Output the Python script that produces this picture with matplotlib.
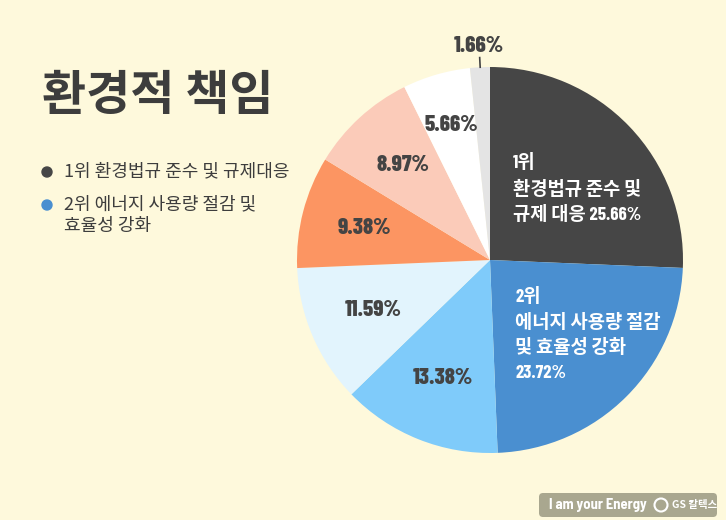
"""Pie chart of environmental responsibility priorities (환경적 책임)."""

import matplotlib
matplotlib.use("Agg")
import matplotlib.pyplot as plt
import numpy as np
from matplotlib.patches import FancyBboxPatch, Circle

plt.rcParams["font.family"] = ["Noto Sans CJK KR", "DejaVu Sans"]

BG = "#fef9dc"
DARK = "#444444"
NUM_FONT = ["Barlow Condensed", "Noto Sans CJK KR", "DejaVu Sans"]

# data, clockwise from 12 o'clock
values = [25.66, 23.72, 13.38, 11.59, 9.38, 8.97, 5.66, 1.66]
pct_labels = ["25.66%", "23.72%", "13.38%", "11.59%", "9.38%", "8.97%", "5.66%", "1.66%"]
colors = ["#464646", "#4a8fd0", "#7fcbfa", "#e2f4fd", "#fc9562", "#fbcbb9", "#ffffff", "#e4e4e4"]
legend_items = ["1위 환경법규 준수 및 규제대응", "2위 에너지 사용량 절감 및\n효율성 강화"]
legend_colors = ["#464646", "#4a8fd0"]

W, H = 726, 520
fig = plt.figure(figsize=(W / 100, H / 100), dpi=100)
fig.patch.set_facecolor(BG)

# pie axis: centre (490, 260) px, radius 193 px
cx, cy, r = 490, 260, 193
ax = fig.add_axes([(cx - r) / W, (H - cy - r) / H, 2 * r / W, 2 * r / H])
wedges, _ = ax.pie(values, colors=colors, startangle=90, counterclock=False,
                   wedgeprops=dict(linewidth=0))
ax.set_xlim(-1, 1)
ax.set_ylim(-1, 1)
ax.set_aspect("equal")
ax.axis("off")

cum = np.cumsum([0] + values)
mids = 90 - (cum[:-1] + cum[1:]) / 2 * 3.6
dists = [None, None, 0.66, 0.66, 0.67, 0.67, 0.73, 1.11]
for i in range(2, len(values)):
    a = np.deg2rad(mids[i])
    d = dists[i]
    ax.text(d * np.cos(a), d * np.sin(a), pct_labels[i], ha="center", va="center",
            fontsize=16.5, fontweight=800, color=DARK, family=NUM_FONT, clip_on=False)

# tick line for the tiny slice
a = np.deg2rad(mids[7])
ax.plot([1.0 * np.cos(a), 1.05 * np.cos(a)], [1.0 * np.sin(a), 1.05 * np.sin(a)],
        color=DARK, lw=1.2, clip_on=False)

# inner labels for the two largest slices
inner = dict(ha="left", va="center", fontsize=13.5, fontweight="bold", color="white",
             family=NUM_FONT)
rows1 = ["1위", "환경법규 준수 및", "규제 대응 " + pct_labels[0]]
for txt, y in zip(rows1, [163, 190, 215]):
    ax.text(23 / r, (cy - y) / r, txt, **inner)
rows2 = ["2위", "에너지 사용량 절감", "및 효율성 강화", pct_labels[1]]
for txt, y in zip(rows2, [297, 323, 348, 373]):
    ax.text(25 / r, (cy - y) / r, txt, **inner)

# title
fig.text(42 / W, 1 - 95 / H, "환경적 책임", ha="left", va="center",
         fontsize=34.5, fontweight=900, color="#3d3d3d")

# legend
legend_y = [172, 205]
for txt, col, y in zip(legend_items, legend_colors, legend_y):
    fig.patches.append(Circle((47, H - y), 5, transform=None, color=col))
    fig.text(64 / W, 1 - (y - 10) / H, txt, ha="left", va="top", fontsize=13,
             fontweight=500, color="#3d3d3d", linespacing=1.3)

# logo badge
fig.patches.append(FancyBboxPatch((539, H - 517), 178, 24, boxstyle="round,pad=0,rounding_size=4",
                                  transform=None, facecolor="#a9a78f", edgecolor="none"))
fig.text(549 / W, 1 - 505 / H, "I am your Energy", ha="left", va="center",
         fontsize=10.5, fontweight="bold", color="white", family=["Barlow Semi Condensed", "DejaVu Sans"])
fig.patches.append(Circle((661, H - 505), 6.5, transform=None, facecolor="none",
                          edgecolor="white", lw=1.5))
fig.text(672 / W, 1 - 505 / H, "GS 칼텍스", ha="left", va="center",
         fontsize=7.5, fontweight="bold", color="white")

fig.savefig("out.png", dpi=100, facecolor=BG)
